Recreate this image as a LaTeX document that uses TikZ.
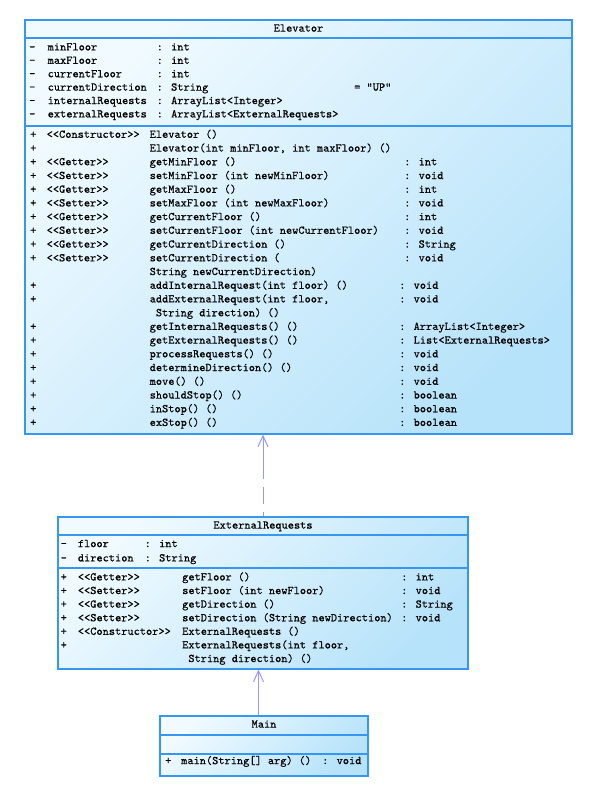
\documentclass[tikz,border=0pt]{standalone}
\usepackage{fontspec}
\newfontfamily\umlfont{lmmono10-regular.otf}[FakeBold=0.4]
\usetikzlibrary{arrows.meta}
\definecolor{boxline}{RGB}{55,150,240}
\definecolor{boxlight}{RGB}{240,250,255}
\definecolor{boxdark}{RGB}{183,227,250}
\definecolor{arrowc}{RGB}{150,150,255}
\newcommand\sto{<\kern0pt<}
\newcommand\stc{>\kern0pt>}
\newcommand\T[4]{\node[txt] (#1) at (#2,#3) {#4};}
\begin{document}
\begin{tikzpicture}[x=1pt,y=-1pt,
  classbox/.style={draw=boxline, line width=1.1pt, top color=boxlight, bottom color=boxdark, shading angle=45, inner sep=0, rectangle},
  sepline/.style={draw=boxline, line width=1.1pt},
  txt/.style={anchor=mid west, inner sep=0, font=\fontsize{11.8}{13}\selectfont\umlfont},
  ttl/.style={anchor=mid, inner sep=0, font=\fontsize{11.8}{13}\selectfont\umlfont},
  dep/.style={draw=arrowc, line width=1pt, dash pattern=on 4pt off 8pt on 17pt off 8pt on 80pt off 0pt, -{Straight Barb[length=11pt,width=10pt]}},
  assoc/.style={draw=arrowc, line width=1pt, -{Straight Barb[length=11pt,width=10pt]}}]
\useasboundingbox (0,0) rectangle (590,804);

% ---------- Elevator ----------
\node[classbox, minimum width=547pt, minimum height=414pt] (elev) at (298.5,227) {};
\draw[sepline] (elev.west |- 0,38) -- (elev.east |- 0,38);
\draw[sepline] (elev.west |- 0,126) -- (elev.east |- 0,126);
\node[ttl] (elevT) at (298.5,29.5) {Elevator};

\T{ea1d}{29}{48.3}{-}  \T{ea1n}{47.5}{48.3}{minFloor}          \T{ea1t}{156.5}{48.3}{: int}
\T{ea2d}{29}{61.7}{-}  \T{ea2n}{47.5}{61.7}{maxFloor}          \T{ea2t}{156.5}{61.7}{: int}
\T{ea3d}{29}{75.1}{-}  \T{ea3n}{47.5}{75.1}{currentFloor}      \T{ea3t}{156.5}{75.1}{: int}
\T{ea4d}{29}{88.5}{-}  \T{ea4n}{47.5}{88.5}{currentDirection}  \T{ea4t}{156.5}{88.5}{: String}
\T{ea4v}{354}{88.5}{= "UP"}
\T{ea5d}{29}{101.9}{-} \T{ea5n}{47.5}{101.9}{internalRequests} \T{ea5t}{156.5}{101.9}{: ArrayList<Integer>}
\T{ea6d}{29}{115.3}{-} \T{ea6n}{47.5}{115.3}{externalRequests} \T{ea6t}{156.5}{115.3}{: ArrayList<ExternalRequests>}

\T{em0p}{30}{135.7}{+} \T{em0s}{46.5}{135.7}{\sto Constructor\stc} \T{em0n}{149.5}{135.7}{Elevator ()}
\T{em1p}{30}{149.4}{+} \T{em1n}{149.5}{149.4}{Elevator(int minFloor, int maxFloor) ()}
\T{em2p}{30}{163.1}{+} \T{em2s}{46.5}{163.1}{\sto Getter\stc} \T{em2n}{149.5}{163.1}{getMinFloor ()} \T{em2r}{404}{163.1}{: int}
\T{em3p}{30}{176.9}{+} \T{em3s}{46.5}{176.9}{\sto Setter\stc} \T{em3n}{149.5}{176.9}{setMinFloor (int newMinFloor)} \T{em3r}{404}{176.9}{: void}
\T{em4p}{30}{190.6}{+} \T{em4s}{46.5}{190.6}{\sto Getter\stc} \T{em4n}{149.5}{190.6}{getMaxFloor ()} \T{em4r}{404}{190.6}{: int}
\T{em5p}{30}{204.3}{+} \T{em5s}{46.5}{204.3}{\sto Setter\stc} \T{em5n}{149.5}{204.3}{setMaxFloor (int newMaxFloor)} \T{em5r}{404}{204.3}{: void}
\T{em6p}{30}{218.0}{+} \T{em6s}{46.5}{218.0}{\sto Getter\stc} \T{em6n}{149.5}{218.0}{getCurrentFloor ()} \T{em6r}{404}{218.0}{: int}
\T{em7p}{30}{231.7}{+} \T{em7s}{46.5}{231.7}{\sto Setter\stc} \T{em7n}{149.5}{231.7}{setCurrentFloor (int newCurrentFloor)} \T{em7r}{404}{231.7}{: void}
\T{em8p}{30}{245.5}{+} \T{em8s}{46.5}{245.5}{\sto Getter\stc} \T{em8n}{149.5}{245.5}{getCurrentDirection ()} \T{em8r}{404}{245.5}{: String}
\T{em9p}{30}{259.2}{+} \T{em9s}{46.5}{259.2}{\sto Setter\stc} \T{em9n}{149.5}{259.2}{setCurrentDirection (} \T{em9r}{404}{259.2}{: void}
\T{em10n}{149.5}{272.9}{String newCurrentDirection)}
\T{em11p}{30}{286.6}{+} \T{em11n}{149.5}{286.6}{addInternalRequest(int floor) ()} \T{em11r}{399}{286.6}{: void}
\T{em12p}{30}{300.3}{+} \T{em12n}{149.5}{300.3}{addExternalRequest(int floor,} \T{em12r}{399}{300.3}{: void}
\T{em13n}{155.7}{314.1}{String direction) ()}
\T{em14p}{30}{327.8}{+} \T{em14n}{149.5}{327.8}{getInternalRequests() ()} \T{em14r}{399}{327.8}{: ArrayList<Integer>}
\T{em15p}{30}{341.5}{+} \T{em15n}{149.5}{341.5}{getExternalRequests() ()} \T{em15r}{399}{341.5}{: List<ExternalRequests>}
\T{em16p}{30}{355.2}{+} \T{em16n}{149.5}{355.2}{processRequests() ()} \T{em16r}{399}{355.2}{: void}
\T{em17p}{30}{368.9}{+} \T{em17n}{149.5}{368.9}{determineDirection() ()} \T{em17r}{399}{368.9}{: void}
\T{em18p}{30}{382.7}{+} \T{em18n}{149.5}{382.7}{move() ()} \T{em18r}{399}{382.7}{: void}
\T{em19p}{30}{396.4}{+} \T{em19n}{149.5}{396.4}{shouldStop() ()} \T{em19r}{399}{396.4}{: boolean}
\T{em20p}{30}{410.1}{+} \T{em20n}{149.5}{410.1}{inStop() ()} \T{em20r}{399}{410.1}{: boolean}
\T{em21p}{30}{423.8}{+} \T{em21n}{149.5}{423.8}{exStop() ()} \T{em21r}{399}{423.8}{: boolean}

% ---------- ExternalRequests ----------
\node[classbox, minimum width=410pt, minimum height=152pt] (ext) at (263,593) {};
\draw[sepline] (ext.west |- 0,535) -- (ext.east |- 0,535);
\draw[sepline] (ext.west |- 0,568) -- (ext.east |- 0,568);
\node[ttl] (extT) at (263,526.5) {ExternalRequests};

\T{xa1d}{60.5}{545}{-}   \T{xa1n}{77.7}{545}{floor}       \T{xa1t}{144.5}{545}{: int}
\T{xa2d}{60.5}{559.3}{-} \T{xa2n}{77.7}{559.3}{direction} \T{xa2t}{144.5}{559.3}{: String}

\T{xm0p}{60.5}{578.3}{+} \T{xm0s}{77.7}{578.3}{\sto Getter\stc} \T{xm0n}{182}{578.3}{getFloor ()} \T{xm0r}{401}{578.3}{: int}
\T{xm1p}{60.5}{591.9}{+} \T{xm1s}{77.7}{591.9}{\sto Setter\stc} \T{xm1n}{182}{591.9}{setFloor (int newFloor)} \T{xm1r}{401}{591.9}{: void}
\T{xm2p}{60.5}{605.5}{+} \T{xm2s}{77.7}{605.5}{\sto Getter\stc} \T{xm2n}{182}{605.5}{getDirection ()} \T{xm2r}{401}{605.5}{: String}
\T{xm3p}{60.5}{619.1}{+} \T{xm3s}{77.7}{619.1}{\sto Setter\stc} \T{xm3n}{182}{619.1}{setDirection (String newDirection)} \T{xm3r}{401}{619.1}{: void}
\T{xm4p}{60.5}{632.7}{+} \T{xm4s}{77.7}{632.7}{\sto Constructor\stc} \T{xm4n}{182}{632.7}{ExternalRequests ()}
\T{xm5p}{60.5}{646.3}{+} \T{xm5n}{182}{646.3}{ExternalRequests(int floor,}
\T{xm6n}{188.2}{659.9}{String direction) ()}

% ---------- Main ----------
\node[classbox, minimum width=208pt, minimum height=60pt] (mainc) at (264,746) {};
\draw[sepline] (mainc.west |- 0,735) -- (mainc.east |- 0,735);
\draw[sepline] (mainc.west |- 0,754) -- (mainc.east |- 0,754);
\node[ttl] (mainT) at (264,725.5) {Main};
\T{mm0p}{165}{762}{+} \T{mm0n}{181}{762}{main(String[] arg) ()} \T{mm0r}{322}{762}{: void}

% ---------- connectors ----------
\draw[dep] (ext.north) -- (ext.north |- elev.south);
\draw[assoc] ([xshift=-5.5pt]mainc.north) -- ([xshift=-5.5pt]mainc.north |- ext.south);
\end{tikzpicture}
\end{document}
